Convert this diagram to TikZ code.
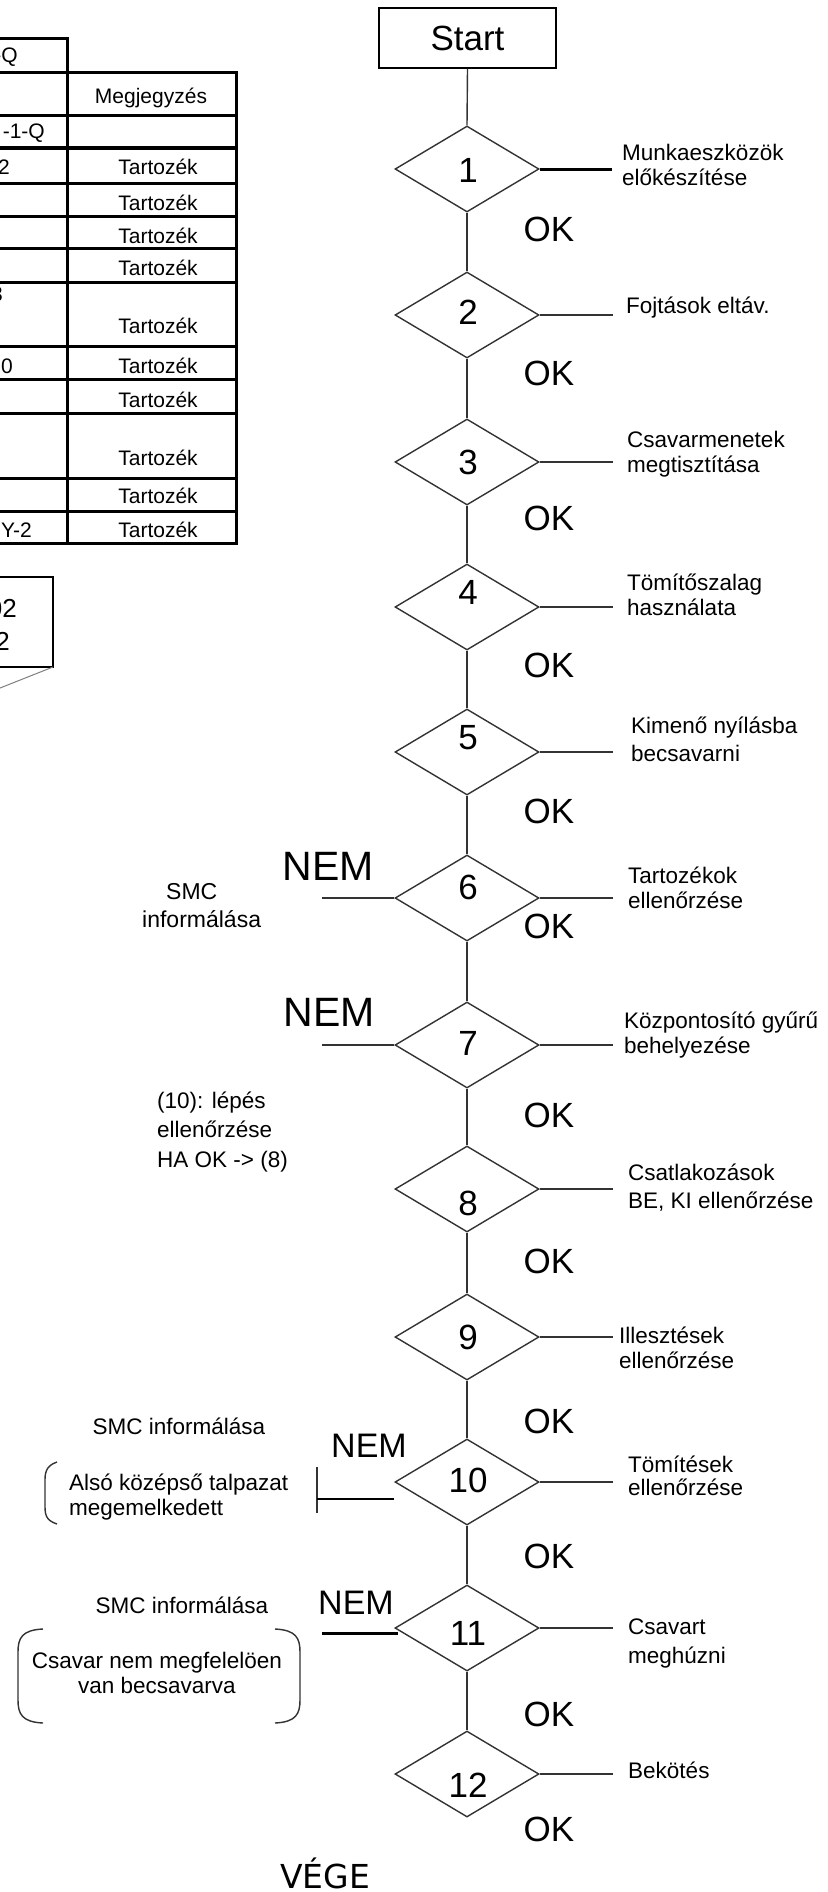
\documentclass[tikz,border=0pt]{standalone}
\usepackage{fontspec}
\setmainfont{Liberation Sans}
\newfontfamily\vegefont{DejaVu Sans}
\usetikzlibrary{shapes.geometric}
\newcommand\fst{\rule{0pt}{20pt}}
\begin{document}
\begin{tikzpicture}[x=1pt,y=-1pt,
  dia/.style={draw=black!80, line width=1.4pt, diamond, minimum width=144pt, minimum height=86pt, inner sep=0pt},
  conn/.style={draw=black!80, line width=1.4pt},
  thickconn/.style={draw=black, line width=3pt},
  num/.style={font=\fontsize{35}{40}\selectfont, inner sep=0pt},
  oklab/.style={font=\fontsize{35}{40}\selectfont, inner sep=0pt},
  nembig/.style={font=\fontsize{41}{45}\selectfont, inner sep=0pt},
  nemsmall/.style={font=\fontsize{34}{38}\selectfont, inner sep=0pt},
  lab/.style={anchor=north west, align=left, inner sep=0pt, font=\fontsize{22.5}{25}\selectfont},
  txt/.style={inner sep=0pt, font=\fontsize{22.5}{25}\selectfont},
  tabline/.style={line width=3pt, draw=black, line cap=rect},
  tt/.style={font=\fontsize{21}{24}\selectfont, inner sep=0pt},
  brk/.style={draw=black!80, line width=1.4pt},
]
\fill[white] (0,0) rectangle (827,1892);
\useasboundingbox (0,0) rectangle (827,1892);

% ---------- table ----------
\draw[tabline] (-5,39) -- (67,39);
\foreach \yy in {73,116,148,183,216,248,282,346,379,413,478,511,543}
  \draw[tabline] (-5,\yy) -- (236,\yy);
\draw[tabline] (67,39) -- (67,543);
\draw[tabline] (236,73) -- (236,543);
\node[tt, anchor=base east] (t0) at (18,63) {-Q};
\node[tt, anchor=base] (th) at (151,104) {Megjegyzés};
\node[tt, anchor=base east] (t2) at (45,139) {-1-Q};
\node[tt, anchor=base east] (t3) at (10,175) {2};
\node[tt, anchor=base east] (t7) at (3,301) {3};
\node[tt, anchor=base east] (t8) at (13,373) {60};
\node[tt, anchor=base east] (t12) at (32,537) {Y-2};
\foreach \yy/\nm in {175/a,210/b,243/c,275/d,333/e,373/f,407/g,465/h,503/i,537/j}
  \node[tt, anchor=base] (tz\nm) at (158,\yy) {Tartozék};

% ---------- small box ----------
\draw[line width=1.5pt] (-5,577) -- (53,577) -- (53,667) -- (-5,667);
\draw[black!50, line width=1pt] (53,667) -- (-5,690);
\node[font=\fontsize{26}{30}\selectfont, inner sep=0pt, anchor=base east] (bx1) at (17,617) {02};
\node[font=\fontsize{26}{30}\selectfont, inner sep=0pt, anchor=base east] (bx2) at (10,650) {2};

% ---------- start ----------
\node[draw, line width=1.5pt, minimum width=177pt, minimum height=60pt, inner sep=0pt,
      font=\fontsize{35}{40}\selectfont] (start) at (467.5,38) {Start};

% ---------- diamonds ----------
\node[dia] (d1) at (467,169) {};
\node[dia] (d2) at (467,315) {};
\node[dia] (d3) at (467,462) {};
\node[dia] (d4) at (467,607) {};
\node[dia] (d5) at (467,752) {};
\node[dia] (d6) at (467,898) {};
\node[dia] (d7) at (467,1045) {};
\node[dia] (d8) at (467,1189) {};
\node[dia] (d9) at (467,1337) {};
\node[dia] (d10) at (467,1482) {};
\node[dia] (d11) at (467,1628) {};
\node[dia] (d12) at (467,1774) {};

\node[num] (n1) at (468,170) {1};
\node[num] (n2) at (468,312) {2};
\node[num] (n3) at (468,462) {3};
\node[num] (n4) at (468,592) {4};
\node[num] (n5) at (468,738) {5};
\node[num] (n6) at (468,887) {6};
\node[num] (n7) at (468,1043) {7};
\node[num] (n8) at (468,1203) {8};
\node[num] (n9) at (468,1337) {9};
\node[num] (n10) at (468,1480) {10};
\node[num] (n11) at (468,1633) {11};
\node[num] (n12) at (468,1785) {12};

% spine
\draw[conn] (start.south) -- (d1.north);
\draw[conn] (d1.south) -- (d2.north);
\draw[conn] (d2.south) -- (d3.north);
\draw[conn] (d3.south) -- (d4.north);
\draw[conn] (d4.south) -- (d5.north);
\draw[conn] (d5.south) -- (d6.north);
\draw[conn] (d6.south) -- (d7.north);
\draw[conn] (d7.south) -- (d8.north);
\draw[conn] (d8.south) -- (d9.north);
\draw[conn] (d9.south) -- (d10.north);
\draw[conn] (d10.south) -- (d11.north);
\draw[conn] (d11.south) -- (d12.north);

% right stubs
\coordinate (r1) at (612,169);
\draw[thickconn] (d1.east) -- (r1);
\foreach \i/\yy in {2/315,3/462,4/607,5/752,6/898,7/1045,8/1189,9/1337,10/1482,11/1628,12/1774}{
  \coordinate (r\i) at (613,\yy);
  \draw[conn] (d\i.east) -- (r\i);
}

% OK labels
\foreach \i/\yy in {1/229,2/373,3/518,4/665,5/811,6/926,7/1115,8/1261,9/1421,10/1556,11/1714,12/1829}
  \node[oklab] (ok\i) at (549,\yy) {OK};

% right labels
\node[lab] (L1) at (622,140) {\fst Munkaeszközök\\előkészítése};
\node[lab] (L2) at (626,293) {\fst Fojtások eltáv.};
\node[lab] (L3) at (627,427) {\fst Csavarmenetek\\megtisztítása};
\node[lab] (L4) at (627,570) {\fst Tömítőszalag\\használata};
\node[lab] (L5) at (631,713) {\fst Kimenő nyílásba\\[3pt]becsavarni};
\node[lab] (L6) at (628,863) {\fst Tartozékok\\ellenőrzése};
\node[lab] (L7) at (624,1008) {\fst Központosító gyűrű\\behelyezése};
\node[lab] (L8) at (628,1160) {\fst Csatlakozások\\[3pt]BE, KI ellenőrzése};
\node[lab] (L9) at (619,1323) {\fst Illesztések\\ellenőrzése};
\node[lab] (L10) at (628,1452) {\fst Tömítések\\[-2pt]ellenőrzése};
\node[lab] (L11) at (628,1614) {\fst Csavart\\[4pt]meghúzni};
\node[lab] (L12) at (628,1758) {\fst Bekötés};

% NEM labels and left branches
\node[nembig] (nem6) at (328,866) {NEM};
\node[nembig] (nem7) at (329,1012) {NEM};
\node[nemsmall] (nem10) at (369,1446) {NEM};
\node[nemsmall] (nem11) at (356,1603) {NEM};

\coordinate (l6) at (322,898);
\draw[conn] (l6) -- (d6.west);
\coordinate (l7) at (322,1045);
\draw[conn] (l7) -- (d7.west);
\coordinate (l11) at (322,1633);
\coordinate (e11) at (398,1633);
\draw[thickconn] (l11) -- (e11);

% left texts
\node[lab, font=\fontsize{23}{25}\selectfont] (s6) at (142,879) {\fst\hspace{24pt}SMC\\[3pt]informálása};
\node[lab] (s7) at (157,1088) {\fst (10): lépés\\[4.5pt]ellenőrzése\\[4.5pt]HA OK -> (8)};

\node[txt, anchor=base] (s10) at (179,1434) {SMC informálása};
\node[lab] (c10) at (69,1470) {\fst Alsó középső talpazat\\megemelkedett};
\draw[brk] (57,1462) .. controls (45,1466) and (45,1474) .. (45,1482) -- (45,1504) .. controls (45,1514) and (45,1520) .. (57,1524);
\draw[brk] (317,1467) -- (317,1513);
\coordinate (b10) at (317,1499);
\coordinate (e10) at (394,1499);
\draw[draw=black, line width=2.2pt] (b10) -- (e10);

\node[txt, anchor=base] (s11) at (182,1613) {SMC informálása};
\node[txt, anchor=north, align=center] (c11) at (157,1648) {\fst Csavar nem megfelelöen\\van becsavarva};
\draw[brk] (43,1629) .. controls (22,1630) and (18,1638) .. (18,1652) -- (18,1700) .. controls (18,1714) and (22,1722) .. (43,1723);
\draw[brk] (275,1629) .. controls (296,1630) and (300,1638) .. (300,1652) -- (300,1700) .. controls (300,1714) and (296,1722) .. (275,1723);

% end
\node[font=\vegefont\fontsize{33}{36}\selectfont, inner sep=0pt, anchor=base] (vege) at (325,1888) {VÉGE};
\end{tikzpicture}
\end{document}
